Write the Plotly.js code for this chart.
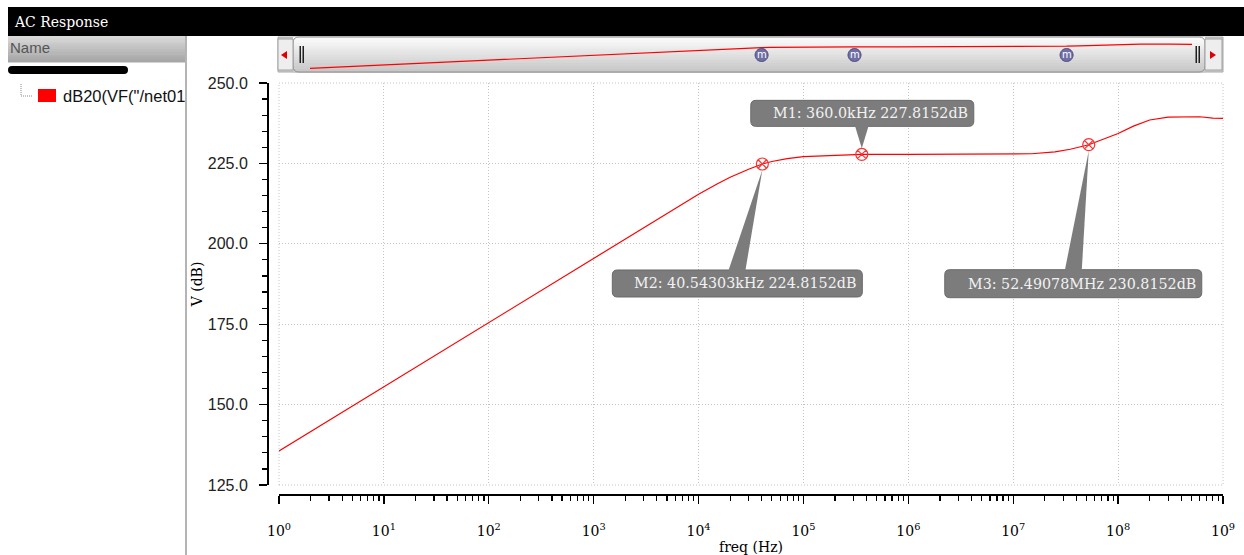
<!DOCTYPE html>
<html><head><meta charset="utf-8">
<script src="https://cdn.plot.ly/plotly-3.0.1.min.js"></script>
<style>html,body{margin:0;padding:0;background:#fff;overflow:hidden}#chart{width:1244px;height:555px}</style>
</head><body><div id="chart"></div>
<script>
// ---- data ----
const freqHz = [1, 10, 100, 1000, 3000, 5000, 10000, 15000, 20000, 30000, 40543.03, 50000, 70000, 100000, 200000, 360000, 1000000, 10000000, 15000000, 25000000, 35000000, 52490780, 70000000, 100000000, 140000000, 200000000, 300000000, 600000000, 800000000, 1000000000];
const magDb  = [135.6, 155.6, 175.6, 195.5, 204.9, 209.5, 215.4, 218.6, 220.7, 223.2, 224.8, 225.6, 226.5, 227.1, 227.6, 227.8, 227.8, 227.9, 228.0, 228.6, 229.4, 230.8, 232.3, 234.3, 236.6, 238.5, 239.4, 239.5, 239.1, 239.0];
const markerNames = ['M1', 'M2', 'M3'];
const markerFreqHz = [360000, 40543.03, 52490780];
const markerDb = [227.8152, 224.8152, 230.8152];
const markerFreqLabels = ['360.0kHz', '40.54303kHz', '52.49078MHz'];
const xTickVals = [1, 10, 100, 1000, 10000, 100000, 1000000, 10000000, 100000000, 1000000000];
const xTickLabels = ['10<sup>0</sup>','10<sup>1</sup>','10<sup>2</sup>','10<sup>3</sup>','10<sup>4</sup>','10<sup>5</sup>','10<sup>6</sup>','10<sup>7</sup>','10<sup>8</sup>','10<sup>9</sup>'];
const yTickVals = [125, 150, 175, 200, 225, 250];
const yTickLabels = ['125.0', '150.0', '175.0', '200.0', '225.0', '250.0'];
const signalName = 'dB20(VF("/net01';

// ---- layout helpers (page pixels) ----
const W = 1244, H = 555;
const PX = x => x / W, PY = y => 1 - y / H;
function rectPx(x0, y0, x1, y1, fill, line, layer) {
  return {type:'rect', xref:'paper', yref:'paper', xsizemode:'pixel', ysizemode:'pixel', xanchor:0, yanchor:1,
    x0:x0, x1:x1, y0:-y0, y1:-y1, fillcolor:fill, line: line || {width:0}, layer: layer || 'above'};
}
function pathPx(d, fill, line, layer) {
  return {type:'path', xref:'paper', yref:'paper', xsizemode:'pixel', ysizemode:'pixel', xanchor:0, yanchor:1,
    path:d, fillcolor:fill, line: line || {width:0}, layer: layer || 'above'};
}
function rr(x0, y0, x1, y1, r, sy) {
  const Y = v => sy * v;
  return `M${x0+r},${Y(y0)} L${x1-r},${Y(y0)} Q${x1},${Y(y0)} ${x1},${Y(y0+r)} L${x1},${Y(y1-r)} Q${x1},${Y(y1)} ${x1-r},${Y(y1)} L${x0+r},${Y(y1)} Q${x0},${Y(y1)} ${x0},${Y(y1-r)} L${x0},${Y(y0+r)} Q${x0},${Y(y0)} ${x0+r},${Y(y0)} Z`;
}
function circlePath(cx, cy, r) {
  const k = 0.5523 * r;
  return `M${cx+r},${cy} C${cx+r},${cy+k} ${cx+k},${cy+r} ${cx},${cy+r} C${cx-k},${cy+r} ${cx-r},${cy+k} ${cx-r},${cy} C${cx-r},${cy-k} ${cx-k},${cy-r} ${cx},${cy-r} C${cx+k},${cy-r} ${cx+r},${cy-k} ${cx+r},${cy} Z`;
}
function hexMix(c0, c1, t) {
  const a = [1,3,5].map(i => parseInt(c0.substr(i,2),16)), b = [1,3,5].map(i => parseInt(c1.substr(i,2),16));
  return 'rgb(' + a.map((v,k) => Math.round(v + (b[k]-v)*t)).join(',') + ')';
}
function grad(x0, y0, x1, y1, c0, c1, n) {
  const out = [], h = (y1 - y0) / n;
  for (let i = 0; i < n; i++) out.push(rectPx(x0, y0 + i*h, x1, y0 + (i+1)*h + 0.5, hexMix(c0, c1, i/(n-1)), null, 'below'));
  return out;
}

const shapes = [];
const annotations = [];

// title bar
shapes.push(rectPx(8, 7, W, 36, '#000000', null, 'below'));
annotations.push({xref:'paper', yref:'paper', x:PX(12), y:PY(22), xanchor:'left', yanchor:'middle', showarrow:false,
  text:'AC Response', font:{family:'DejaVu Serif', size:14, color:'#ffffff'}});

// left panel
shapes.push(...grad(8, 36, 185, 62, '#d8d8d8', '#a6a6a6', 10));
annotations.push({xref:'paper', yref:'paper', x:PX(8), y:PY(47), xanchor:'left', yanchor:'middle', showarrow:false,
  text:'Name', font:{family:'Liberation Sans', size:15, color:'#555555'}});
shapes.push(pathPx(rr(8, 66, 128, 74, 4, -1), '#000000'));
shapes.push(rectPx(185, 36, 187, H, '#b4b4b4'));
shapes.push(pathPx('M21,-84 L21,-96 L33,-96', 'rgba(0,0,0,0)', {color:'#8a8a8a', width:1, dash:'1px,1px'}));
shapes.push(rectPx(38, 89, 56, 102, '#ff0000'));
annotations.push({xref:'paper', yref:'paper', x:PX(61), y:PY(96), xanchor:'left', yanchor:'middle', showarrow:false,
  text:signalName, font:{family:'Liberation Sans', size:16.5, color:'#111111'}});

// overview widget
shapes.push(rectPx(278, 37, 1223, 72, '#d0d0d0', {color:'#a8a8a8', width:1}, 'below'));
shapes.push(...grad(293, 37, 1205, 72, '#fbfbfb', '#c8c8c8', 12));
shapes.push(pathPx(rr(293, 37, 1205, 72, 6, -1), 'rgba(0,0,0,0)', {color:'#8e8e8e', width:1}, 'below'));
shapes.push(rectPx(278, 39, 293, 70, '#eeeeee', {color:'#a0a0a0', width:1}, 'below'));
shapes.push(rectPx(1205, 39, 1222, 70, '#eeeeee', {color:'#a0a0a0', width:1}, 'below'));
shapes.push(pathPx('M287,-51 L281,-55 L287,-59 Z', '#e00000'));
shapes.push(pathPx('M1210,-51 L1216,-55 L1210,-59 Z', '#e00000'));
shapes.push(rectPx(299.5, 46, 301, 63, '#202020'));
shapes.push(rectPx(302.5, 46, 304, 63, '#202020'));
shapes.push(rectPx(1195.5, 46, 1197, 63, '#202020'));
shapes.push(rectPx(1198.5, 46, 1200, 63, '#202020'));
markerFreqHz.forEach((f, i) => {
  shapes.push({type:'path', xref:'x2', yref:'paper', xsizemode:'pixel', ysizemode:'pixel', xanchor:f, yanchor:1,
    path:circlePath(0, -55, 6.5), fillcolor:'#6f6fa6', line:{color:'#4b4b7d', width:1}, layer:'above'});
  annotations.push({xref:'x2', yref:'paper', x:Math.log10(f), y:PY(55), xanchor:'center', yanchor:'middle', showarrow:false,
    text:'m', font:{family:'DejaVu Sans', size:10, color:'#ffffff'}});
});

// marker callouts (box offsets in px relative to the marker, y up)
const callouts = [
  {bx0:-111, bx1:112, byT:54, byB:28, t0:-7, t1:7, tipY:6, tdx:9},
  {bx0:-150, bx1:100, byT:-106, byB:-133, t0:-34, t1:-17, tipY:-6, tdx:-17},
  {bx0:-144, bx1:113, byT:-125, byB:-153, t0:-24, t1:-7, tipY:-6, tdx:-7}
];
markerNames.forEach((name, i) => {
  const c = callouts[i];
  const base = {type:'path', xref:'x', yref:'y', xsizemode:'pixel', ysizemode:'pixel',
    xanchor:markerFreqHz[i], yanchor:markerDb[i], layer:'above'};
  shapes.push(Object.assign({}, base, {path: rr(c.bx0, -c.byT, c.bx1, -c.byB, 5, -1),
    fillcolor:'#7c7c7c', line:{color:'#6a6a6a', width:1}}));
  const by = c.byT > 0 ? c.byB + 1 : c.byT - 1;
  shapes.push(Object.assign({}, base, {path:`M${c.t0},${by} L${c.t1},${by} L0,${c.tipY} Z`,
    fillcolor:'#7c7c7c', line:{width:0}}));
  annotations.push({xref:'x', yref:'y', x:Math.log10(markerFreqHz[i]), y:markerDb[i], xanchor:'center', yanchor:'middle',
    xshift:c.tdx, yshift:(c.byT + c.byB)/2, showarrow:false,
    text:`${name}: ${markerFreqLabels[i]} ${markerDb[i].toFixed(4)}dB`,
    font:{family:'DejaVu Serif', size:14.3, color:'#f2f2f2'}});
});

// plot-area frame (dotted, like the grid)
const dot = {color:'#c4c4c4', width:1, dash:'1px,2px'};
shapes.push({type:'rect', xref:'x domain', yref:'y domain', x0:0, x1:1, y0:0, y1:1, line:dot, fillcolor:'rgba(0,0,0,0)', layer:'below'});

// minor ticks on log axis
const minorX = [];
for (let d = 0; d < 9; d++) for (let k = 2; k <= 9; k++) minorX.push(k * Math.pow(10, d));

const traces = [
  {type:'scatter', mode:'lines', x:freqHz, y:magDb, xaxis:'x', yaxis:'y', line:{color:'#ff0000', width:1.2}, hoverinfo:'skip'},
  {type:'scatter', mode:'markers', x:markerFreqHz, y:markerDb, xaxis:'x', yaxis:'y',
    marker:{symbol:'circle-x-open', size:12, color:'#ff3030', line:{width:1.2}}, hoverinfo:'skip'},
  {type:'scatter', mode:'lines', x:freqHz, y:magDb, xaxis:'x2', yaxis:'y2', line:{color:'#ff0000', width:1.2}, hoverinfo:'skip'}
];

const layout = {
  width: W, height: H,
  margin: {l:0, r:0, t:0, b:0},
  paper_bgcolor: '#ffffff', plot_bgcolor: 'rgba(0,0,0,0)',
  showlegend: false,
  xaxis: {
    type:'log', range:[0, 9], domain:[PX(279), PX(1223)], anchor:'free', position:PY(494),
    showline:true, linecolor:'#000000', linewidth:1.5,
    ticks:'outside', ticklen:8, tickwidth:1.3, tickcolor:'#000000',
    tickmode:'array', tickvals:xTickVals, ticktext:xTickLabels, ticklabelstandoff:16,
    tickfont:{family:'DejaVu Serif', size:14, color:'#000000'},
    minor:{tickmode:'array', tickvals:minorX, ticks:'outside', ticklen:5, tickwidth:1.2, tickcolor:'#000000', showgrid:false},
    showgrid:true, gridcolor:'#c4c4c4', griddash:'1px,2px', gridwidth:1, zeroline:false,
    title:{text:'freq (Hz)', font:{family:'DejaVu Serif', size:14, color:'#000000'}, standoff:6}
  },
  yaxis: {
    range:[125, 250], domain:[PY(485), PY(83)], anchor:'free', position:PX(267),
    showline:true, linecolor:'#000000', linewidth:1.5,
    ticks:'outside', ticklen:8, tickwidth:1.3, tickcolor:'#000000',
    tickmode:'array', tickvals:yTickVals, ticktext:yTickLabels, ticklabelstandoff:8,
    tickfont:{family:'Liberation Sans', size:16, color:'#222222'},
    minor:{dtick:5, ticks:'outside', ticklen:5, tickwidth:1.2, tickcolor:'#000000', showgrid:false},
    showgrid:true, gridcolor:'#c4c4c4', griddash:'1px,2px', gridwidth:1, zeroline:false,
    title:{text:'V (dB)', font:{family:'DejaVu Serif', size:14, color:'#000000'}, standoff:0}
  },
  xaxis2: {type:'log', range:[0, 9], domain:[PX(310), PX(1192)], anchor:'y2', visible:false, fixedrange:true},
  yaxis2: {range:[125, 250], domain:[PY(70.8), PY(41.75)], anchor:'x2', visible:false, fixedrange:true},
  shapes: shapes,
  annotations: annotations
};

Plotly.newPlot('chart', traces, layout, {displayModeBar:false, staticPlot:true});
</script>
</body></html>
